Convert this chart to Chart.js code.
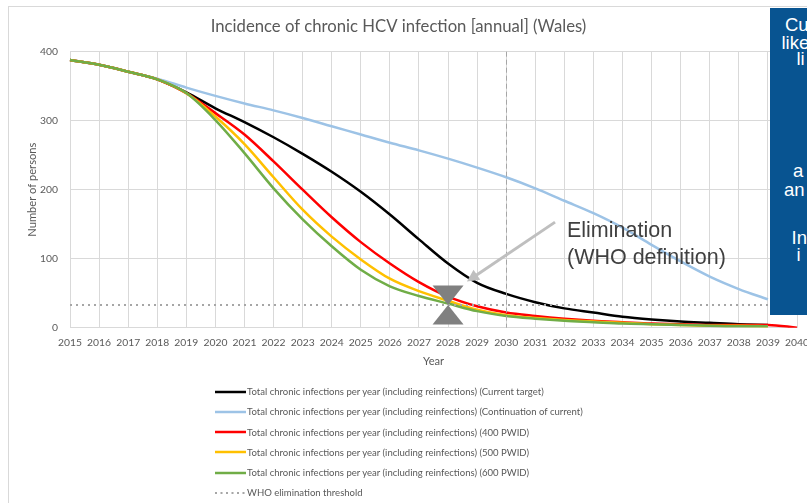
<!DOCTYPE html>
<html>
<head>
<meta charset="utf-8">
<script src="https://cdn.jsdelivr.net/npm/chart.js@4.4.0/dist/chart.umd.min.js"></script>
<style>
html,body{margin:0;padding:0;background:#fff;}
body{width:807px;height:503px;overflow:hidden;position:relative;}
#frame{position:absolute;left:8px;top:6px;width:900px;height:600px;border:1px solid #d9d9d9;box-sizing:border-box;}
#wrap{position:absolute;left:0;top:0;width:830px;height:503px;}
.lg{position:absolute;left:215px;height:16px;display:flex;align-items:center;white-space:nowrap;color:#595959;font-family:Lato,"Liberation Sans",sans-serif;}
.lg svg{flex:none;margin-right:1px;}
#box{position:absolute;left:770px;top:8px;width:60px;height:307px;background:#085491;overflow:hidden;color:#fff;font-family:"Liberation Sans",Arial,sans-serif;font-size:18.5px;}
#box span{position:absolute;line-height:1;white-space:nowrap;}
</style>
</head>
<body>
<div id="frame"></div>
<div id="wrap"><canvas id="c" width="830" height="503"></canvas></div>
<div id="legend"></div>
<div id="box">
  <span style="left:15px;top:8px">Cu</span>
  <span style="left:11.5px;top:26px">like</span>
  <span style="left:26.5px;top:42px">li</span>
  <span style="left:23px;top:154px">a</span>
  <span style="left:14px;top:173px">an</span>
  <span style="left:21.5px;top:221px">In</span>
  <span style="left:26.5px;top:238px">i</span>
</div>
<script>
// ---------- data ----------
const TITLE = 'Incidence of chronic HCV infection [annual] (Wales)';
const X_TITLE = 'Year';
const Y_TITLE = 'Number of persons';
const YEARS = ['2015','2016','2017','2018','2019','2020','2021','2022','2023','2024','2025','2026','2027',
               '2028','2029','2030','2031','2032','2033','2034','2035','2036','2037','2038','2039','2040'];
const Y_TICKS = [0, 100, 200, 300, 400];

const CURRENT_TARGET = [388,381,371,360,341,318,298,276,252,226,197,164,128,93,65,49,37,28,22,16,12,9,7,5,4,null];
const CONTINUATION   = [388,381,371,361,348,336,325,315,304,292,280,268,257,245,232,218,202,184,166,145,120,96,74,56,41,null];
const PWID_400       = [388,381,371,360,340,311,280,241,200,160,124,93,66,45,31,22,17,13,10,8,6,5,4,4,4,0];
const PWID_500       = [388,381,371,360,340,306,266,218,171,132,99,71,53,39,26,18,14,11,9,7,5,4,3,3,2,null];
const PWID_600       = [388,381,371,360,340,301,253,202,157,118,84,60,46,35,24,17,13,10,8,6,5,4,3,2,2,null];
const WHO_THRESHOLD  = [33,33,33,33,33,33,33,33,33,33,33,33,33,33,33,33,33,33,33,33,33,33,33,33,33,33];

const SERIES_LABELS = [
  'Total chronic infections per year (including reinfections) (Current target)',
  'Total chronic infections per year (including reinfections) (Continuation of current)',
  'Total chronic infections per year (including reinfections) (400 PWID)',
  'Total chronic infections per year (including reinfections) (500 PWID)',
  'Total chronic infections per year (including reinfections) (600 PWID)',
  'WHO elimination threshold'
];
const SERIES_DATA = [CURRENT_TARGET, CONTINUATION, PWID_400, PWID_500, PWID_600, WHO_THRESHOLD];
const ELIM_YEAR = '2028';
const TARGET_YEAR = '2030';
const ANNOTATION_LINES = ['Elimination', '(WHO definition)'];

// ---------- styles ----------
const COLORS = ['#000000', '#9dc3e6', '#ff0000', '#ffc000', '#70ad47', '#a6a6a6'];
const FONT = 'Lato, "Liberation Sans", sans-serif';
function fit(text, family, w) {
  const c = document.createElement('canvas').getContext('2d');
  c.font = '100px ' + family;
  return 100 * w / c.measureText(text).width;
}
const titleSize = fit(TITLE, FONT, 376);
const tickSize = fit('2015', FONT, 24);
const axisTitleSize = fit(Y_TITLE, FONT, 94);
const legendSize = fit(SERIES_LABELS[0], FONT, 298);

const PLOT_TOP = 51.7, PLOT_BOTTOM = 327.7, PLOT_LEFT = 70, PLOT_RIGHT = 797, CW = 830, CH = 503;

const datasets = SERIES_DATA.map((d, i) => {
  const isThr = i === 5;
  return {
    label: SERIES_LABELS[i],
    data: d,
    borderColor: COLORS[i],
    backgroundColor: COLORS[i],
    borderWidth: isThr ? 2 : 2.5,
    borderDash: isThr ? [2, 4] : [],
    borderCapStyle: 'butt',
    pointRadius: 0,
    cubicInterpolationMode: 'monotone',
    fill: false,
    order: isThr ? 0 : 6 - i
  };
});

const overlay = {
  id: 'overlay',
  afterDatasetsDraw(chart) {
    const {ctx, chartArea: a, scales: {x, y}} = chart;
    ctx.save();
    // vertical dashed target line
    const vx = Math.round(x.getPixelForValue(YEARS.indexOf(TARGET_YEAR))) + 0.5;
    ctx.strokeStyle = '#a6a6a6'; ctx.lineWidth = 1; ctx.setLineDash([5, 3]);
    ctx.beginPath(); ctx.moveTo(vx, a.top); ctx.lineTo(vx, a.bottom); ctx.stroke();
    ctx.setLineDash([]);
    // hourglass marker at elimination year on threshold
    const ei = YEARS.indexOf(ELIM_YEAR);
    const cx = x.getPixelForValue(ei), cy = y.getPixelForValue(WHO_THRESHOLD[ei]);
    ctx.fillStyle = '#808080';
    ctx.beginPath(); ctx.moveTo(cx - 15.5, cy - 19.5); ctx.lineTo(cx + 15.5, cy - 19.5); ctx.lineTo(cx, cy); ctx.closePath(); ctx.fill();
    ctx.beginPath(); ctx.moveTo(cx - 15.5, cy + 19.5); ctx.lineTo(cx + 15.5, cy + 19.5); ctx.lineTo(cx, cy); ctx.closePath(); ctx.fill();
    // arrow
    const tx = x.getPixelForValue(ei + 3.68), ty = y.getPixelForValue(153);
    const hx = x.getPixelForValue(ei + 0.65), hy = y.getPixelForValue(67);
    const ang = Math.atan2(hy - ty, hx - tx);
    ctx.strokeStyle = '#bfbfbf'; ctx.fillStyle = '#bfbfbf'; ctx.lineWidth = 3;
    ctx.beginPath(); ctx.moveTo(tx, ty); ctx.lineTo(hx - 9 * Math.cos(ang), hy - 9 * Math.sin(ang)); ctx.stroke();
    ctx.beginPath();
    ctx.moveTo(hx, hy);
    ctx.lineTo(hx - 12 * Math.cos(ang) + 6 * Math.sin(ang), hy - 12 * Math.sin(ang) - 6 * Math.cos(ang));
    ctx.lineTo(hx - 12 * Math.cos(ang) - 6 * Math.sin(ang), hy - 12 * Math.sin(ang) + 6 * Math.cos(ang));
    ctx.closePath(); ctx.fill();
    // annotation text
    ctx.fillStyle = '#404040';
    ctx.font = '21.5px "Liberation Sans", Arial, sans-serif';
    ctx.textAlign = 'left'; ctx.textBaseline = 'alphabetic';
    const lx = x.getPixelForValue(ei + 4.09), ly = y.getPixelForValue(131);
    ctx.fillText(ANNOTATION_LINES[0], lx, ly);
    ctx.fillText(ANNOTATION_LINES[1], lx, ly + 26.5);
    ctx.restore();
  }
};

const tickFont = {family: FONT, size: tickSize, lineHeight: 1.2};
const axFont = {family: FONT, size: axisTitleSize, lineHeight: 1.2};
const titleLH = titleSize * 1.2;

new Chart(document.getElementById('c'), {
  type: 'line',
  data: {labels: YEARS, datasets},
  options: {
    responsive: false,
    animation: false,
    events: [],
    layout: {padding: {left: 0, right: CW - PLOT_RIGHT, top: 0, bottom: 0}},
    plugins: {
      legend: {display: false},
      tooltip: {enabled: false},
      title: {
        display: true, text: TITLE, color: '#595959',
        font: {family: FONT, size: titleSize, weight: 'normal', lineHeight: 1.2},
        padding: {top: 27 - titleLH / 2, bottom: PLOT_TOP - 27 - titleLH / 2}
      }
    },
    scales: {
      x: {
        type: 'category', offset: false,
        grid: {color: '#d9d9d9', lineWidth: 1, drawTicks: false, tickLength: 0},
        border: {color: '#d9d9d9'},
        ticks: {color: '#595959', font: tickFont, padding: 343 - PLOT_BOTTOM - tickSize * 0.6, maxRotation: 0, autoSkip: false},
        title: {display: true, text: X_TITLE, color: '#595959', font: axFont,
                padding: {top: 0, bottom: CH - 361 - axisTitleSize * 0.6}},
        afterFit(s) { s.height = CH - PLOT_BOTTOM; }
      },
      y: {
        min: Y_TICKS[0], max: Y_TICKS[Y_TICKS.length - 1],
        afterBuildTicks(s) { s.ticks = Y_TICKS.map(v => ({value: v})); },
        grid: {color: '#d9d9d9', lineWidth: 1, drawTicks: false, tickLength: 0},
        border: {color: '#d9d9d9'},
        ticks: {color: '#595959', font: tickFont, padding: 12},
        title: {display: true, text: Y_TITLE, color: '#595959', font: axFont,
                padding: {top: 32 - axisTitleSize * 0.6, bottom: 0}},
        afterFit(s) { s.width = PLOT_LEFT; }
      }
    }
  },
  plugins: [overlay]
});

// ---------- legend (HTML, one item per row) ----------
const legend = document.getElementById('legend');
SERIES_LABELS.forEach((lab, i) => {
  const row = document.createElement('div');
  row.className = 'lg';
  row.style.top = (391.7 + i * 20.2 - 8) + 'px';
  row.style.fontSize = legendSize + 'px';
  const dash = i === 5 ? 'stroke-dasharray="2 3.5" stroke-width="2"' : 'stroke-width="2.5"';
  row.innerHTML = '<svg width="31" height="6"><line x1="0" y1="3" x2="31" y2="3" stroke="' + COLORS[i] + '" ' + dash + '/></svg>';
  const t = document.createElement('span');
  t.textContent = lab;
  row.appendChild(t);
  legend.appendChild(row);
});
</script>
</body>
</html>
